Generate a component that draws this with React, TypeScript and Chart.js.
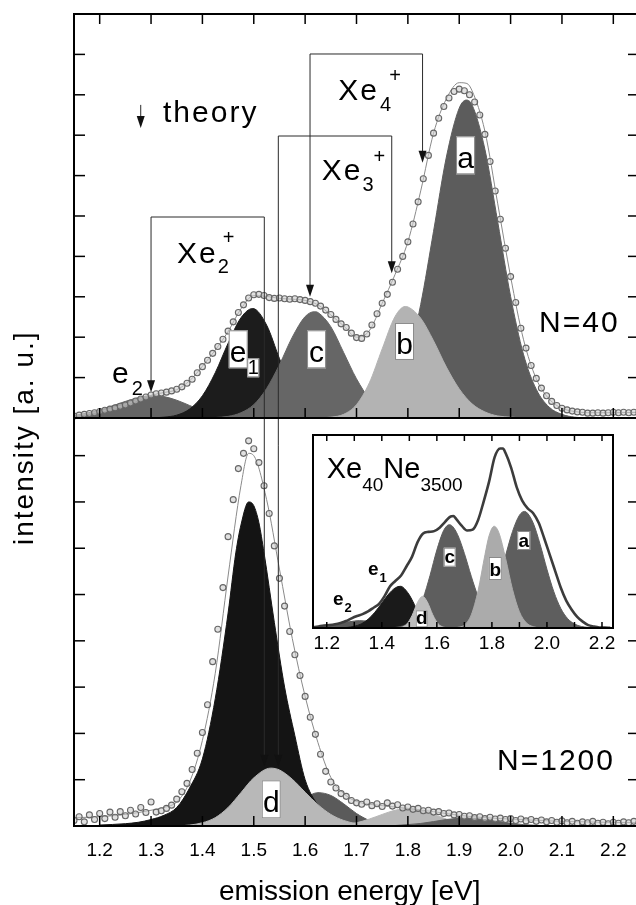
import React, { useEffect, useRef } from "react";
import { Chart, registerables } from "chart.js";

Chart.register(...registerables);

const FONT = "'Liberation Sans', Arial, Helvetica, sans-serif";

// ---------- axes ----------
const X_TICKS = [1.2, 1.3, 1.4, 1.5, 1.6, 1.7, 1.8, 1.9, 2.0, 2.1, 2.2];
const INSET_LABEL_TICKS = [1.2, 1.4, 1.6, 1.8, 2.0, 2.2];
const TOP_Y_TICKS = [1, 2, 3, 4, 5, 6, 7, 8, 9];
const BOTTOM_Y_TICKS = [1, 2, 3, 4, 5, 6, 7, 8];

type P = [number, number];

// ---------- top panel (N=40) ----------
const TOP_E2: P[] = [[1.15,.06],[1.175,.12],[1.2,.2],[1.225,.3],[1.25,.41],[1.275,.5],[1.3,.55],[1.31,.55],[1.325,.53],[1.35,.44],[1.375,.31],[1.4,.18],[1.425,.09],[1.45,.04],[1.475,.01],[1.5,0]];
const TOP_E1: P[] = [[1.3,0],[1.325,.02],[1.35,.07],[1.375,.22],[1.4,.55],[1.425,1.12],[1.45,1.85],[1.475,2.48],[1.498,2.71],[1.525,2.3],[1.55,1.47],[1.575,.71],[1.6,.26],[1.625,.07],[1.65,.02],[1.675,0]];
const TOP_C: P[] = [[1.4,0],[1.45,.04],[1.475,.13],[1.5,.33],[1.525,.73],[1.55,1.32],[1.575,2.0],[1.6,2.51],[1.618,2.63],[1.625,2.61],[1.65,2.26],[1.675,1.62],[1.7,.97],[1.725,.48],[1.75,.2],[1.775,.07],[1.8,.02],[1.825,0]];
const TOP_B: P[] = [[1.625,0],[1.65,.02],[1.675,.09],[1.7,.33],[1.725,.87],[1.75,1.71],[1.775,2.51],[1.795,2.76],[1.8,2.75],[1.825,2.47],[1.85,1.91],[1.875,1.26],[1.9,.72],[1.925,.35],[1.95,.15],[1.975,.05],[2.0,.02],[2.025,0]];
const TOP_A: P[] = [[1.675,0],[1.7,.02],[1.725,.08],[1.75,.24],[1.775,.64],[1.8,1.45],[1.825,2.81],[1.85,4.62],[1.875,6.46],[1.9,7.67],[1.914,7.87],[1.925,7.75],[1.95,6.65],[1.975,4.85],[2.0,3.01],[2.025,1.58],[2.05,.71],[2.075,.27],[2.1,.09],[2.125,.02],[2.15,0]];
const TOP_FIT: P[] = [[1.15,.05],[1.175,.1],[1.2,.16],[1.225,.23],[1.25,.33],[1.275,.45],[1.3,.56],[1.325,.63],[1.35,.7],[1.375,.92],[1.4,1.28],[1.425,1.68],[1.45,2.14],[1.475,2.7],[1.5,3.03],[1.525,3.01],[1.55,2.96],[1.575,2.94],[1.6,2.91],[1.625,2.8],[1.65,2.55],[1.675,2.28],[1.7,2.0],[1.725,2.16],[1.75,2.84],[1.775,3.55],[1.8,4.36],[1.825,5.62],[1.85,7.05],[1.875,7.9],[1.9,8.3],[1.915,8.28],[1.925,8.1],[1.95,7.1],[1.975,5.3],[2.0,3.5],[2.025,1.95],[2.05,.97],[2.075,.47],[2.1,.24],[2.125,.16],[2.15,.13],[2.2,.13],[2.25,.14]];
const TOP_DATA: P[] = [[1.15,.05],[1.16,.07],[1.17,.09],[1.18,.11],[1.19,.13],[1.2,.16],[1.21,.19],[1.22,.22],[1.23,.25],[1.24,.29],[1.25,.32],[1.26,.37],[1.27,.42],[1.28,.47],[1.29,.52],[1.3,.57],[1.31,.6],[1.32,.62],[1.33,.64],[1.34,.67],[1.35,.71],[1.36,.77],[1.37,.86],[1.38,.96],[1.39,1.12],[1.4,1.27],[1.41,1.43],[1.42,1.6],[1.43,1.77],[1.44,1.95],[1.45,2.15],[1.46,2.38],[1.47,2.61],[1.48,2.8],[1.49,2.97],[1.5,3.05],[1.51,3.06],[1.52,3.03],[1.53,2.98],[1.54,2.96],[1.55,2.97],[1.56,2.95],[1.57,2.94],[1.58,2.95],[1.59,2.93],[1.6,2.91],[1.61,2.88],[1.62,2.84],[1.63,2.77],[1.64,2.67],[1.65,2.56],[1.66,2.44],[1.67,2.33],[1.68,2.24],[1.69,2.1],[1.7,1.99],[1.71,1.97],[1.72,2.08],[1.73,2.3],[1.74,2.58],[1.75,2.84],[1.76,3.06],[1.77,3.36],[1.78,3.68],[1.79,4.0],[1.8,4.36],[1.81,4.8],[1.82,5.35],[1.83,5.92],[1.84,6.5],[1.85,7.05],[1.86,7.42],[1.87,7.71],[1.88,7.92],[1.89,8.08],[1.9,8.14],[1.91,8.1],[1.92,8.0],[1.93,7.82],[1.94,7.5],[1.95,7.02],[1.96,6.35],[1.97,5.62],[1.98,4.92],[1.99,4.2],[2.0,3.5],[2.01,2.86],[2.02,2.22],[2.03,1.73],[2.04,1.3],[2.05,.98],[2.06,.74],[2.07,.55],[2.08,.41],[2.09,.31],[2.1,.24],[2.11,.2],[2.12,.17],[2.13,.15],[2.14,.14],[2.15,.12],[2.16,.12],[2.17,.13],[2.18,.12],[2.19,.13],[2.2,.14],[2.21,.13],[2.22,.14],[2.23,.13],[2.24,.14],[2.25,.14]];

// ---------- bottom panel (N=1200) ----------
const BOT_E1: P[] = [[1.2,.02],[1.25,.05],[1.275,.08],[1.3,.14],[1.325,.23],[1.35,.4],[1.375,.82],[1.4,1.45],[1.425,2.75],[1.45,4.6],[1.465,5.9],[1.475,6.5],[1.49,7.0],[1.5,6.92],[1.51,6.55],[1.52,5.9],[1.54,4.4],[1.56,3.0],[1.58,1.95],[1.6,1.0],[1.625,.45],[1.65,.18],[1.675,.07],[1.7,.02],[1.725,0]];
const BOT_D: P[] = [[1.35,0],[1.375,.02],[1.4,.07],[1.425,.18],[1.45,.4],[1.475,.72],[1.5,1.04],[1.533,1.25],[1.55,1.21],[1.575,1.01],[1.6,.73],[1.625,.46],[1.65,.25],[1.675,.12],[1.7,.05],[1.725,.02],[1.75,0]];
const BOT_C: P[] = [[1.475,0],[1.5,.02],[1.525,.08],[1.55,.2],[1.575,.39],[1.6,.6],[1.625,.72],[1.65,.66],[1.675,.48],[1.7,.27],[1.725,.12],[1.75,.04],[1.775,.01],[1.8,0]];
const BOT_B: P[] = [[1.625,0],[1.65,.01],[1.675,.03],[1.7,.07],[1.725,.15],[1.75,.25],[1.775,.34],[1.8,.38],[1.825,.34],[1.85,.25],[1.875,.15],[1.9,.07],[1.925,.03],[1.95,.01],[1.975,0]];
const BOT_A: P[] = [[1.75,0],[1.775,.01],[1.8,.03],[1.825,.055],[1.85,.095],[1.875,.14],[1.9,.165],[1.925,.17],[1.95,.14],[1.975,.1],[2.0,.06],[2.025,.03],[2.05,.014],[2.075,.005],[2.1,0]];
const BOT_FIT: P[] = [[1.15,.18],[1.2,.2],[1.25,.25],[1.275,.29],[1.3,.34],[1.325,.4],[1.35,.52],[1.375,.95],[1.4,1.85],[1.425,3.3],[1.45,5.4],[1.475,7.35],[1.49,8.05],[1.5,8.0],[1.525,7.05],[1.55,5.55],[1.575,4.05],[1.6,2.8],[1.625,1.8],[1.65,1.05],[1.675,.7],[1.7,.53],[1.75,.44],[1.8,.38],[1.85,.31],[1.9,.23],[1.95,.18],[2.0,.15],[2.1,.1],[2.25,.07]];
const BOT_DATA: P[] = [[1.15,.12],[1.16,.2],[1.17,.09],[1.18,.24],[1.19,.14],[1.2,.27],[1.21,.16],[1.22,.3],[1.23,.19],[1.24,.31],[1.25,.22],[1.26,.34],[1.27,.26],[1.28,.4],[1.29,.29],[1.3,.52],[1.31,.3],[1.32,.33],[1.33,.38],[1.34,.45],[1.35,.58],[1.36,.74],[1.37,.92],[1.38,1.22],[1.39,1.57],[1.4,2.02],[1.41,2.62],[1.42,3.55],[1.43,4.25],[1.44,5.15],[1.45,6.25],[1.46,7.05],[1.47,7.72],[1.48,8.05],[1.49,8.32],[1.5,8.15],[1.51,7.85],[1.52,7.35],[1.53,6.75],[1.54,6.05],[1.55,5.35],[1.56,4.75],[1.57,4.2],[1.58,3.7],[1.59,3.25],[1.6,2.8],[1.61,2.35],[1.62,1.98],[1.63,1.55],[1.64,1.18],[1.65,.95],[1.66,.82],[1.67,.7],[1.68,.64],[1.69,.55],[1.7,.5],[1.71,.47],[1.72,.52],[1.73,.44],[1.74,.48],[1.75,.42],[1.76,.5],[1.77,.43],[1.78,.46],[1.79,.39],[1.8,.41],[1.81,.36],[1.82,.38],[1.83,.33],[1.84,.34],[1.85,.3],[1.86,.31],[1.87,.27],[1.88,.28],[1.89,.24],[1.9,.25],[1.91,.21],[1.92,.22],[1.93,.18],[1.94,.2],[1.95,.16],[1.96,.19],[1.97,.15],[1.98,.17],[1.99,.14],[2.0,.16],[2.01,.12],[2.02,.15],[2.03,.11],[2.04,.14],[2.05,.1],[2.06,.13],[2.07,.09],[2.08,.12],[2.09,.08],[2.1,.11],[2.11,.07],[2.12,.1],[2.13,.06],[2.14,.09],[2.15,.07],[2.16,.1],[2.17,.06],[2.18,.08],[2.19,.05],[2.2,.08],[2.21,.06],[2.22,.09],[2.23,.07],[2.24,.1],[2.25,.08]];

// ---------- inset (Xe40Ne3500) ----------
const INSET_E2: P[] = [[1.15,.02],[1.175,.04],[1.2,.09],[1.225,.15],[1.25,.23],[1.275,.31],[1.3,.36],[1.32,.38],[1.35,.35],[1.375,.28],[1.4,.2],[1.425,.12],[1.45,.07],[1.475,.03],[1.5,.01],[1.525,0]];
const INSET_E1: P[] = [[1.225,0],[1.25,.01],[1.275,.03],[1.3,.09],[1.325,.21],[1.35,.45],[1.375,.82],[1.4,1.29],[1.425,1.76],[1.45,2.09],[1.467,2.16],[1.475,2.13],[1.5,1.71],[1.525,1.04],[1.55,.48],[1.575,.17],[1.6,.05],[1.625,.01],[1.65,0]];
const INSET_D: P[] = [[1.45,0],[1.47,.03],[1.49,.19],[1.51,.65],[1.53,1.33],[1.548,1.64],[1.565,1.36],[1.585,.69],[1.605,.21],[1.625,.04],[1.645,0]];
const INSET_C: P[] = [[1.425,0],[1.45,.03],[1.475,.1],[1.5,.29],[1.525,.72],[1.55,1.53],[1.575,2.71],[1.6,4.04],[1.625,5.06],[1.645,5.35],[1.65,5.34],[1.675,4.85],[1.7,3.86],[1.725,2.68],[1.75,1.62],[1.775,.86],[1.8,.4],[1.825,.16],[1.85,.06],[1.875,0]];
const INSET_B: P[] = [[1.65,0],[1.675,.03],[1.7,.16],[1.725,.68],[1.75,1.94],[1.775,3.81],[1.79,4.79],[1.808,5.27],[1.825,4.95],[1.85,3.59],[1.875,1.99],[1.9,.84],[1.925,.27],[1.95,.07],[1.975,.01],[2.0,0]];
const INSET_A: P[] = [[1.675,0],[1.7,.05],[1.725,.14],[1.75,.34],[1.775,.75],[1.8,1.46],[1.825,2.5],[1.85,3.77],[1.875,5.0],[1.9,5.84],[1.918,6.04],[1.925,6.01],[1.95,5.44],[1.975,4.34],[2.0,3.04],[2.025,1.88],[2.05,1.02],[2.075,.49],[2.1,.21],[2.125,.08],[2.15,.03],[2.175,0]];
const INSET_DATA: P[] = [[1.15,.03],[1.17,.08],[1.19,.13],[1.21,.15],[1.23,.19],[1.25,.26],[1.27,.36],[1.29,.5],[1.31,.62],[1.33,.72],[1.35,.86],[1.37,1.05],[1.39,1.25],[1.41,1.65],[1.43,2.16],[1.45,2.45],[1.47,2.72],[1.49,3.2],[1.51,3.7],[1.53,4.45],[1.55,4.9],[1.57,4.98],[1.59,5.02],[1.61,5.2],[1.63,5.5],[1.65,5.78],[1.66,5.8],[1.67,5.65],[1.69,5.3],[1.71,5.05],[1.73,5.1],[1.75,5.6],[1.77,6.55],[1.79,7.6],[1.81,8.85],[1.83,9.3],[1.84,9.3],[1.85,9.05],[1.87,8.3],[1.89,7.3],[1.91,6.6],[1.93,6.2],[1.95,5.95],[1.97,5.45],[1.99,4.65],[2.01,3.8],[2.03,2.95],[2.05,2.1],[2.07,1.42],[2.09,.95],[2.11,.58],[2.13,.33],[2.15,.15],[2.17,.08],[2.19,.03],[2.21,.02],[2.23,.01]];

// ---------- helpers ----------
const pts = (a: P[]) => a.map(([x, y]) => ({ x, y }));

function area(label: string, data: P[], yAxisID: string, color: string, order: number) {
  return {
    label, data: pts(data), yAxisID, order,
    borderColor: color, backgroundColor: color, borderWidth: 1,
    fill: "origin", pointRadius: 0, cubicInterpolationMode: "monotone",
  };
}
function fitLine(label: string, data: P[], yAxisID: string, order: number) {
  return {
    label, data: pts(data), yAxisID, order,
    borderColor: "#8a8a8a", borderWidth: 1, fill: false, pointRadius: 0,
    cubicInterpolationMode: "monotone",
  };
}
function circles(label: string, data: P[], yAxisID: string, order: number) {
  return {
    label, data: pts(data), yAxisID, order, showLine: false,
    pointRadius: 3, pointBorderWidth: 1.1,
    pointBorderColor: "#666666", pointBackgroundColor: "rgba(205,205,205,0.6)",
    borderColor: "#666666", backgroundColor: "rgba(0,0,0,0)",
  };
}

function seg(ctx: any, x1: number, y1: number, x2: number, y2: number) {
  ctx.beginPath(); ctx.moveTo(x1, y1); ctx.lineTo(x2, y2); ctx.stroke();
}
function arrowDown(ctx: any, x: number, yFrom: number, yTip: number) {
  const h = 12, w = 4;
  seg(ctx, x, yFrom, x, yTip - h + 1);
  ctx.beginPath(); ctx.moveTo(x - w, yTip - h); ctx.lineTo(x + w, yTip - h); ctx.lineTo(x, yTip); ctx.closePath(); ctx.fill();
}
type Part = { t: string; size: number; dy?: number; dx?: number; bold?: boolean };
function drawParts(ctx: any, x: number, y: number, parts: Part[]) {
  let cx = x;
  for (const p of parts) {
    ctx.font = `${p.bold ? "bold " : ""}${p.size}px ${FONT}`;
    cx += p.dx || 0;
    ctx.fillText(p.t, cx, y + (p.dy || 0));
    cx += ctx.measureText(p.t).width;
  }
}
function box(ctx: any, cx: number, bottom: number, w: number, h: number, text: string, font: string, baseOff: number) {
  ctx.fillStyle = "#fff";
  ctx.fillRect(cx - w / 2, bottom - h, w, h);
  ctx.strokeStyle = "#8a8a8a"; ctx.lineWidth = 1;
  ctx.strokeRect(cx - w / 2 + 0.5, bottom - h + 0.5, w - 1, h - 1);
  ctx.fillStyle = "#000"; ctx.font = font; ctx.textAlign = "center";
  ctx.fillText(text, cx, bottom - baseOff);
  ctx.textAlign = "left";
}

// ---------- plugins ----------
const mainDecor = {
  id: "mainDecor",
  afterDatasetsDraw(chart: any) {
    const { ctx, chartArea: ca } = chart;
    const sx = chart.scales.x, yt = chart.scales.yTop, yb = chart.scales.yBot;
    const X = (v: number) => sx.getPixelForValue(v);
    const YT = (v: number) => yt.getPixelForValue(v);
    const YB = (v: number) => yb.getPixelForValue(v);
    const div = YT(0);
    ctx.save();
    ctx.strokeStyle = "#2a2a2a"; ctx.fillStyle = "#111"; ctx.lineWidth = 1;
    arrowDown(ctx, X(1.2799), YT(7.75), YT(7.18));
    // Xe2+
    arrowDown(ctx, X(1.3), YT(4.975), YT(0.64));
    seg(ctx, X(1.3), YT(4.975), X(1.5205), YT(4.975));
    arrowDown(ctx, X(1.5205), YT(4.975), YB(1.28));
    // Xe3+
    seg(ctx, X(1.5478), YT(6.98), X(1.7686), YT(6.98));
    arrowDown(ctx, X(1.5478), YT(6.98), YB(1.28));
    arrowDown(ctx, X(1.7686), YT(6.98), YT(3.58));
    // Xe4+
    seg(ctx, X(1.6095), YT(9.01), X(1.8286), YT(9.01));
    arrowDown(ctx, X(1.6095), YT(9.01), YT(3.0));
    arrowDown(ctx, X(1.8286), YT(9.01), YT(6.32));

    const f30 = `30px ${FONT}`;
    box(ctx, X(1.4697), YT(1.23), 19, 38, "e", f30, 6.5);
    box(ctx, X(1.4989), YT(1.0074), 12, 19, "1", `20px ${FONT}`, 3.5);
    box(ctx, X(1.6222), YT(1.23), 19, 38, "c", f30, 6.5);
    box(ctx, X(1.7935), YT(1.436), 19, 37, "b", f30, 5.5);
    box(ctx, X(1.9123), YT(6.032), 19, 38, "a", f30, 6.5);
    box(ctx, X(1.534), YB(0.166), 19, 38, "d", f30, 6.5);

    // frame
    ctx.strokeStyle = "#000"; ctx.lineWidth = 2;
    ctx.strokeRect(ca.left, ca.top, ca.right - ca.left, ca.bottom - ca.top);
    seg(ctx, ca.left, div, ca.right, div);
    ctx.lineWidth = 1.5;
    for (const t of X_TICKS) {
      const px = X(t);
      seg(ctx, px, ca.top, px, ca.top + 10);
      seg(ctx, px, div, px, div - 10);
      seg(ctx, px, ca.bottom, px, ca.bottom - 10);
    }
    for (const t of TOP_Y_TICKS) {
      const py = YT(t);
      seg(ctx, ca.left, py, ca.left + 11, py);
      seg(ctx, ca.right, py, ca.right - 11, py);
    }
    for (const t of BOTTOM_Y_TICKS) {
      const py = YB(t);
      seg(ctx, ca.left, py, ca.left + 11, py);
      seg(ctx, ca.right, py, ca.right - 11, py);
    }

    ctx.fillStyle = "#000"; ctx.textAlign = "left"; ctx.textBaseline = "alphabetic";
    ctx.letterSpacing = "2px";
    drawParts(ctx, X(1.3233), YT(7.33), [{ t: "theory", size: 30 }]);
    drawParts(ctx, X(1.3505), YT(3.837), [{ t: "Xe", size: 30 }, { t: "2", size: 20, dy: 10 }, { t: "+", size: 20, dy: -19, dx: -8 }]);
    drawParts(ctx, X(1.6323), YT(5.891), [{ t: "Xe", size: 30 }, { t: "3", size: 20, dy: 11 }, { t: "+", size: 20, dy: -17, dx: -2 }]);
    drawParts(ctx, X(1.6646), YT(7.871), [{ t: "Xe", size: 30 }, { t: "4", size: 20, dy: 11, dx: 1 }, { t: "+", size: 20, dy: -18, dx: -4 }]);
    drawParts(ctx, X(2.0554), YT(2.136), [{ t: "N=40", size: 30 }]);
    drawParts(ctx, X(1.224), YT(0.866), [{ t: "e", size: 30 }, { t: "2", size: 20, dy: 12, dx: 1 }]);
    drawParts(ctx, X(1.9736), YB(1.2095), [{ t: "N=1200", size: 30 }]);
    ctx.restore();
  },
  afterDraw(chart: any) {
    const ctx = chart.ctx;
    ctx.save();
    ctx.fillStyle = "#000"; ctx.textBaseline = "alphabetic"; ctx.textAlign = "left";
    ctx.font = `28px ${FONT}`;
    ctx.letterSpacing = "0px";
    ctx.fillText("emission energy [eV]", 219, 900);
    ctx.letterSpacing = "2px";
    ctx.translate(33, 545);
    ctx.rotate(-Math.PI / 2);
    ctx.fillText("intensity [a. u.]", 0, 0);
    ctx.restore();
  },
};

const insetDecor = {
  id: "insetDecor",
  beforeDatasetsDraw(chart: any) {
    const { ctx, chartArea: ca } = chart;
    ctx.save();
    ctx.fillStyle = "#fff";
    ctx.fillRect(ca.left, ca.top, ca.right - ca.left, ca.bottom - ca.top);
    ctx.restore();
  },
  afterDatasetsDraw(chart: any) {
    const { ctx, chartArea: ca } = chart;
    const X = (v: number) => chart.scales.x.getPixelForValue(v);
    const Y = (v: number) => chart.scales.y.getPixelForValue(v);
    ctx.save();
    const fb = `bold 19px ${FONT}`;
    box(ctx, X(1.6467), Y(3.176), 12, 19, "c", fb, 3.5);
    box(ctx, X(1.8124), Y(2.487), 13, 23, "b", fb, 4);
    box(ctx, X(1.9156), Y(4.041), 13, 19, "a", fb, 3.5);
    box(ctx, X(1.545), Y(0.036), 12, 17, "d", fb, 3);

    ctx.strokeStyle = "#000"; ctx.lineWidth = 2;
    ctx.strokeRect(ca.left, ca.top, ca.right - ca.left, ca.bottom - ca.top);
    ctx.lineWidth = 1.5;
    for (const t of X_TICKS) {
      const px = X(t);
      seg(ctx, px, ca.top, px, ca.top + 6);
      seg(ctx, px, ca.bottom, px, ca.bottom - 6);
    }
    ctx.fillStyle = "#000"; ctx.textAlign = "left"; ctx.textBaseline = "alphabetic";
    drawParts(ctx, X(1.1998), Y(7.756), [{ t: "Xe", size: 29 }, { t: "40", size: 19, dy: 13 }, { t: "Ne", size: 29 }, { t: "3500", size: 19, dy: 13 }]);
    drawParts(ctx, X(1.3499), Y(2.746), [{ t: "e", size: 19, bold: true }, { t: "1", size: 13, bold: true, dy: 7, dx: 1 }]);
    drawParts(ctx, X(1.2227), Y(1.19), [{ t: "e", size: 19, bold: true }, { t: "2", size: 13, bold: true, dy: 7, dx: 1 }]);
    ctx.restore();
  },
};

function xScale(min: number, max: number, ticks: number[], height: number, padding: number) {
  return {
    type: "linear", min, max, position: "bottom",
    grid: { display: false, drawTicks: false }, border: { display: false },
    ticks: {
      color: "#000", font: { family: FONT, size: 19 }, padding,
      autoSkip: false, maxRotation: 0,
      callback: (v: any) => Number(v).toFixed(1),
    },
    afterBuildTicks: (s: any) => { s.ticks = ticks.map((value) => ({ value })); },
    afterFit: (s: any) => { s.height = height; },
  };
}

export default function App() {
  const mainRef = useRef<HTMLCanvasElement>(null);
  const insetRef = useRef<HTMLCanvasElement>(null);

  useEffect(() => {
    const main = new Chart(mainRef.current as HTMLCanvasElement, {
      type: "line",
      data: {
        datasets: [
          circles("N=40 data", TOP_DATA, "yTop", 0),
          fitLine("N=40 fit", TOP_FIT, "yTop", 1),
          area("N=40 b", TOP_B, "yTop", "#b3b3b3", 2),
          area("N=40 a", TOP_A, "yTop", "#5c5c5c", 3),
          area("N=40 c", TOP_C, "yTop", "#666666", 4),
          area("N=40 e1", TOP_E1, "yTop", "#1c1c1c", 5),
          area("N=40 e2", TOP_E2, "yTop", "#646464", 6),
          circles("N=1200 data", BOT_DATA, "yBot", 0),
          fitLine("N=1200 fit", BOT_FIT, "yBot", 1),
          area("N=1200 a", BOT_A, "yBot", "#5f5f5f", 2),
          area("N=1200 b", BOT_B, "yBot", "#b8b8b8", 3),
          area("N=1200 d", BOT_D, "yBot", "#b8b8b8", 4),
          area("N=1200 e1", BOT_E1, "yBot", "#141414", 5),
          area("N=1200 c", BOT_C, "yBot", "#5a5a5a", 6),
        ] as any,
      },
      options: {
        responsive: false,
        animation: false,
        devicePixelRatio: 1,
        events: [],
        layout: { padding: { left: 74, right: 11, top: 14, bottom: 0 } },
        plugins: { legend: { display: false }, tooltip: { enabled: false } },
        scales: {
          x: xScale(1.15, 2.25, X_TICKS, 79, 13) as any,
          yTop: { type: "linear", display: false, min: -10.1, max: 10 },
          yBot: { type: "linear", display: false, min: 0, max: 17.54 },
        },
      } as any,
      plugins: [mainDecor],
    });

    const inset = new Chart(insetRef.current as HTMLCanvasElement, {
      type: "line",
      data: {
        datasets: [
          {
            label: "Xe40Ne3500 data", data: pts(INSET_DATA), order: 0,
            borderColor: "#3c3c3c", borderWidth: 2.6, pointRadius: 0, fill: false,
            cubicInterpolationMode: "monotone",
          },
          area("b", INSET_B, "y", "#ababab", 1),
          area("d", INSET_D, "y", "#bdbdbd", 2),
          area("c", INSET_C, "y", "#5e5e5e", 3),
          area("a", INSET_A, "y", "#5e5e5e", 4),
          area("e1", INSET_E1, "y", "#1a1a1a", 5),
          area("e2", INSET_E2, "y", "#5a5a5a", 6),
        ] as any,
      },
      options: {
        responsive: false,
        animation: false,
        devicePixelRatio: 1,
        events: [],
        layout: { padding: { left: 13, right: 12, top: 10, bottom: 0 } },
        plugins: { legend: { display: false }, tooltip: { enabled: false } },
        scales: {
          x: xScale(1.15, 2.24, INSET_LABEL_TICKS, 32, 4) as any,
          y: { type: "linear", display: false, min: 0, max: 10 },
        },
      } as any,
      plugins: [insetDecor],
    });

    return () => { main.destroy(); inset.destroy(); };
  }, []);

  return (
    <div style={{ position: "absolute", left: 0, top: 0, width: 636, height: 905, overflow: "hidden", background: "#fff" }}>
      <canvas ref={mainRef} width={650} height={905} style={{ position: "absolute", left: 0, top: 0, width: 650, height: 905 }} />
      <canvas ref={insetRef} width={325} height={235} style={{ position: "absolute", left: 300, top: 425, width: 325, height: 235 }} />
    </div>
  );
}
